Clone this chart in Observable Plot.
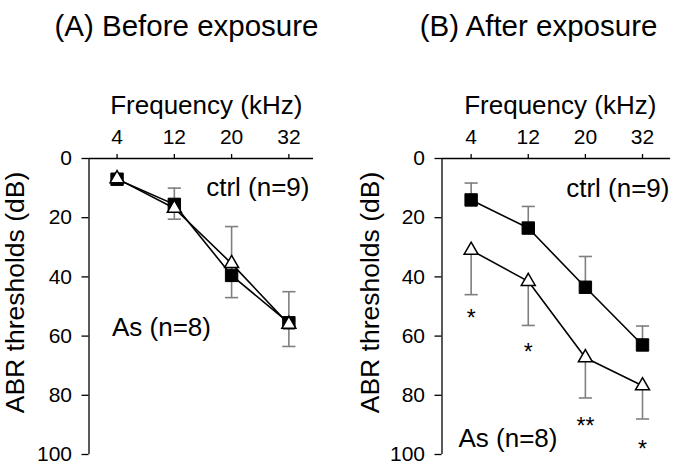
<!DOCTYPE html>
<html><head><meta charset="utf-8">
<script src="https://cdn.jsdelivr.net/npm/d3@7"></script>
<script src="https://cdn.jsdelivr.net/npm/@observablehq/plot@0.6"></script>
<style>
body{margin:0;background:#fff;}
#wrap{position:relative;width:675px;height:464px;overflow:hidden;font-family:"Liberation Sans",Arial,sans-serif;background:#fff;}
#wrap svg{position:absolute;top:0;}
</style></head><body><div id="wrap"></div>
<script>
// ---- data ----
const freqLabels = ["4", "12", "20", "32"];
const panelTitles = ["(A) Before exposure", "(B) After exposure"];
const xLabel = "Frequency (kHz)";
const yLabel = "ABR thresholds (dB)";
const yTicks = [0, 20, 40, 60, 80, 100];
const ctrlName = "ctrl (n=9)";
const asName = "As (n=8)";

// (A) before exposure
const ctrlBefore = [7, 15.5, 39.5, 55.5];
const ctrlBeforeErr = [7, 10, 23, 45];      // end of upward SD bar
const asBefore = [6.8, 16.8, 35.5, 56];
const asBeforeErr = [6.8, 20.5, 47, 63.5];  // end of downward SD bar

// (B) after exposure
const ctrlAfter = [14, 23.5, 43.5, 63];
const ctrlAfterErr = [8.3, 16.2, 33.1, 56.6];
const asAfter = [31, 41.5, 67.3, 76.8];
const asAfterErr = [46, 56.4, 80.9, 88];
const sigAfter = ["*", "*", "**", "*"];
const sigAfterY = [54, 65.5, 90.7, 98.3];

// ---- drawing ----
const FONT = "Liberation Sans, Arial, sans-serif";
const idx = freqLabels.map((_, i) => i);

function rowsOf(vals, errs) {
  return idx.map(i => ({i, v: vals[i], e: errs[i]}));
}

function panel(o) {
  const ctrl = rowsOf(o.ctrl, o.ctrlErr);
  const as = rowsOf(o.as, o.asErr);
  const bars = ctrl.concat(as).filter(d => d.e !== d.v);
  const half = 0.115;
  const marks = [
    Plot.axisX({ticks: idx, anchor: "top", tickFormat: i => freqLabels[i], tickSize: 5, tickPadding: 10, label: null, strokeWidth: 1.3}),
    Plot.axisY({ticks: yTicks, anchor: "left", tickSize: 7, tickPadding: 10, label: null, strokeWidth: 1.3}),
    Plot.ruleY([0], {stroke: "#000", strokeWidth: 1.3}),
    Plot.ruleX([o.xDomain[0]], {stroke: "#000", strokeWidth: 1.3}),
    Plot.ruleX(bars, {x: "i", y1: "v", y2: "e", stroke: "#7f7f7f", strokeWidth: 1.6}),
    Plot.link(bars, {x1: d => d.i - half, x2: d => d.i + half, y1: "e", y2: "e", stroke: "#7f7f7f", strokeWidth: 1.6}),
    Plot.line(ctrl, {x: "i", y: "v", stroke: "#000", strokeWidth: 1.6}),
    Plot.line(as, {x: "i", y: "v", stroke: "#000", strokeWidth: 1.6}),
    Plot.dot(ctrl, {x: "i", y: "v", symbol: "square", r: 7, fill: "#000", stroke: "#000", strokeWidth: 1}),
    Plot.dot(as, {x: "i", y: "v", symbol: "triangle", r: 5.2, fill: "#fff", stroke: "#000", strokeWidth: 1.5}),
    Plot.text([o.title], {frameAnchor: "top", dx: o.titleDx, dy: -143, fontSize: 29.5, fill: "#000"}),
    Plot.text([xLabel], {frameAnchor: "top", dx: o.xLabelDx, dy: -63.3, fontSize: 26, fill: "#000"}),
    Plot.text([yLabel], {frameAnchor: "left", textAnchor: "middle", rotate: -90, dx: o.yLabelDx, dy: -14, fontSize: 26.5, fill: "#000"}),
    Plot.text([{t: ctrlName, y: o.ctrlY}], {y: "y", text: "t", frameAnchor: "right", textAnchor: "end", dx: o.ctrlDx, fontSize: 26, fill: "#000"}),
    Plot.text([{t: asName, y: o.asY}], {y: "y", text: "t", frameAnchor: "left", textAnchor: "start", dx: o.asDx, fontSize: 26, fill: "#000"})
  ];
  if (o.sig) {
    marks.push(Plot.text(idx.map(i => ({i, s: o.sig[i], y: o.sigY[i]})), {x: "i", y: "y", text: "s", fontSize: 23, fill: "#000"}));
  }
  const svg = Plot.plot({
    width: o.width, height: 464,
    marginTop: 158, marginBottom: 10, marginLeft: o.marginLeft, marginRight: o.marginRight,
    style: {fontFamily: FONT, fontSize: "21px", color: "#000", background: "transparent", overflow: "visible"},
    x: {type: "linear", domain: o.xDomain},
    y: {type: "linear", domain: [0, 100], reverse: true},
    marks
  });
  svg.style.left = o.left + "px";
  return svg;
}

const wrap = document.getElementById("wrap");
wrap.appendChild(panel({
  left: 0, width: 337, marginLeft: 88.5, marginRight: 24, xDomain: [-0.49, 3.43],
  ctrl: ctrlBefore, ctrlErr: ctrlBeforeErr, as: asBefore, asErr: asBeforeErr,
  title: panelTitles[0], titleDx: -14.75, xLabelDx: 5, yLabelDx: -73,
  ctrlY: 10, ctrlDx: -4, asY: 57.3, asDx: 23
}));
wrap.appendChild(panel({
  left: 337, width: 338, marginLeft: 104.5, marginRight: 5, xDomain: [-0.51, 3.49],
  ctrl: ctrlAfter, ctrlErr: ctrlAfterErr, as: asAfter, asErr: asAfterErr,
  title: panelTitles[1], titleDx: -17.75, xLabelDx: 4, yLabelDx: -71.5,
  ctrlY: 10.1, ctrlDx: -1, asY: 94.6, asDx: 16.5,
  sig: sigAfter, sigY: sigAfterY
}));
</script></body></html>
